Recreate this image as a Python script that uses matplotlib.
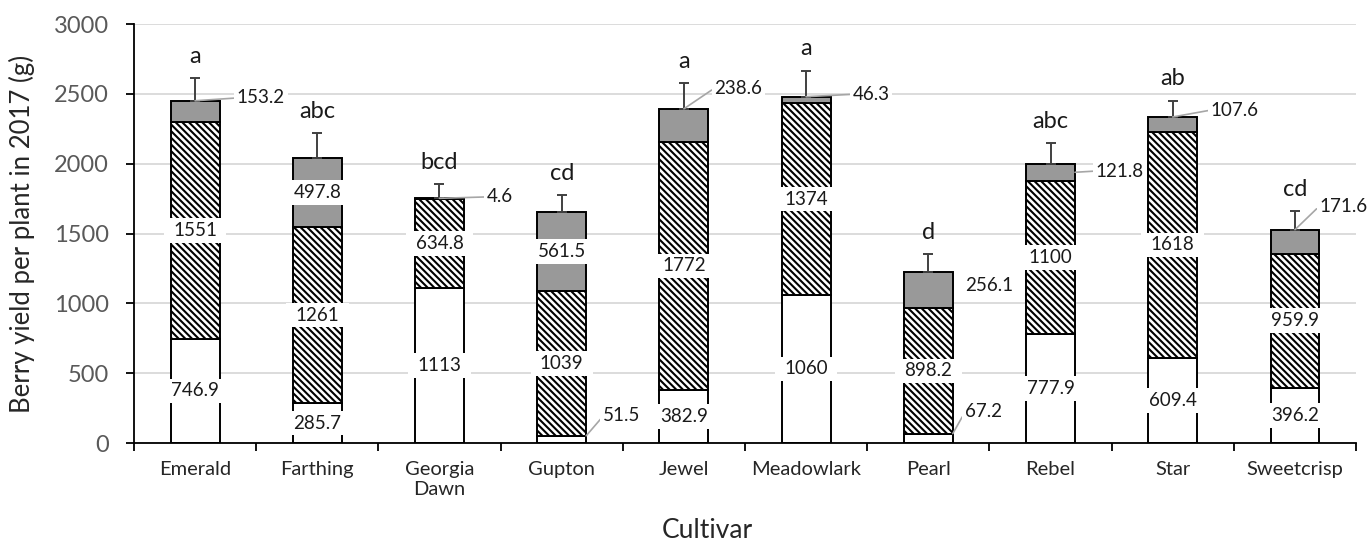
import numpy as np
import matplotlib.pyplot as plt

plt.rcParams['font.family'] = ['Lato', 'DejaVu Sans']
plt.rcParams['hatch.linewidth'] = 1.5

cultivars = ['Emerald', 'Farthing', 'Georgia\nDawn', 'Gupton', 'Jewel',
             'Meadowlark', 'Pearl', 'Rebel', 'Star', 'Sweetcrisp']
# yield portions per plant (g), stacked bottom to top
early = [746.9, 285.7, 1113, 51.5, 382.9, 1060, 67.2, 777.9, 609.4, 396.2]
mid = [1551, 1261, 634.8, 1039, 1772, 1374, 898.2, 1100, 1618, 959.9]
late = [153.2, 497.8, 4.6, 561.5, 238.6, 46.3, 256.1, 121.8, 107.6, 171.6]
se = [160, 173, 100, 124, 182, 186, 132, 146, 116, 133]
letters = ['a', 'abc', 'bcd', 'cd', 'a', 'a', 'd', 'abc', 'ab', 'cd']

# labels placed beside the bar: (segment, cultivar) -> (dx, dy from segment top, leader start)
outside = {
    (2, 0): (0.34, 20, 'top'),
    (2, 2): (0.385, 10, 'top'),
    (0, 3): (0.34, 142, 'side'),
    (2, 4): (0.25, 148, 'top'),
    (2, 5): (0.38, 17, 'top'),
    (2, 6): (0.30, -97, None),
    (0, 6): (0.30, 155, 'side'),
    (2, 7): (0.37, -52, 'mid'),
    (2, 8): (0.31, 49, 'top'),
    (2, 9): (0.20, 169, 'top'),
}

x = np.arange(len(cultivars))
w = 0.40
segs = [np.array(early), np.array(mid), np.array(late)]
bottoms = [np.zeros(len(x)), segs[0], segs[0] + segs[1]]
tops = bottoms[2] + segs[2]

fig, ax = plt.subplots(figsize=(13.67, 5.48), dpi=100)
fig.subplots_adjust(left=0.098, right=0.992, bottom=0.1916, top=0.956)

ax.bar(x, segs[0], w, bottom=bottoms[0], color='white', edgecolor='black',
       linewidth=1.4, zorder=2)
ax.bar(x, segs[1], w, bottom=bottoms[1], color='white', edgecolor='black',
       hatch='\\\\\\\\\\', linewidth=1.4, zorder=2)
ax.bar(x, segs[2], w, bottom=bottoms[2], color='#999999', edgecolor='black',
       linewidth=1.4, zorder=2)

ax.errorbar(x, tops, yerr=[np.zeros(len(x)), se], fmt='none', ecolor='#404040',
            elinewidth=1.4, capsize=3.5, capthick=1.4, zorder=3)

for i in x:
    ax.text(i, tops[i] + se[i] + 110, letters[i], ha='center', va='baseline',
            fontsize=17, color='#1a1a1a', zorder=5)

inside_box = dict(boxstyle='square,pad=0.5', mutation_aspect=0.4,
                  facecolor='white', edgecolor='none')
side_box = dict(boxstyle='square,pad=0.15', facecolor='white', edgecolor='none')
for s in range(3):
    for i in x:
        val = segs[s][i]
        txt = f'{val:g}'
        top = bottoms[s][i] + val
        if (s, i) in outside:
            dx, dy, lead = outside[(s, i)]
            pos = (i + dx, top + dy)
            if lead is None:
                ax.text(*pos, txt, ha='left', va='center', fontsize=13.5,
                        color='#1a1a1a', bbox=side_box, zorder=5)
                continue
            if lead == 'top':
                anchor = (i, top)
            elif lead == 'side':
                anchor = (i + w / 2, top)
            else:
                anchor = (i + w / 2, top - val / 2)
            ax.annotate(txt, xy=anchor, xytext=pos, ha='left', va='center',
                        fontsize=13.5, color='#1a1a1a', bbox=side_box, zorder=5,
                        arrowprops=dict(arrowstyle='-', color='#a6a6a6', lw=1.2,
                                        shrinkA=0, shrinkB=0, relpos=(0, 0.5)))
        else:
            ax.text(i, bottoms[s][i] + val / 2, txt, ha='center', va='center',
                    fontsize=13.5, color='#1a1a1a', bbox=inside_box, zorder=4)

ax.set_ylim(0, 3000)
ax.set_yticks(np.arange(0, 3001, 500))
ax.yaxis.grid(True, color='#d9d9d9', linewidth=1.3)
ax.set_axisbelow(True)
ax.tick_params(axis='y', length=6, width=1.3, pad=12, labelsize=17,
               labelcolor='#595959')

ax.set_xlim(-0.5, 9.5)
ax.set_xticks(np.arange(-0.5, 10, 1))
ax.set_xticklabels([])
ax.set_xticks(x, minor=True)
ax.set_xticklabels(cultivars, minor=True, fontsize=14.5, color='#262626')
ax.tick_params(axis='x', which='major', length=6, width=1.3)
ax.tick_params(axis='x', which='minor', length=0, pad=13)

for side in ['top', 'right']:
    ax.spines[side].set_visible(False)
for side in ['left', 'bottom']:
    ax.spines[side].set_linewidth(1.3)

ax.set_ylabel('Berry yield per plant in 2017 (g)', fontsize=18.5, color='#262626')
ax.yaxis.set_label_coords(-0.092, 0.5)
ax.set_xlabel('Cultivar', fontsize=19, color='#262626')
ax.xaxis.set_label_coords(0.469, -0.208)
ax.xaxis.label.set_va('center')
ax.yaxis.label.set_va('center')

fig.savefig('out.png', dpi=100)
